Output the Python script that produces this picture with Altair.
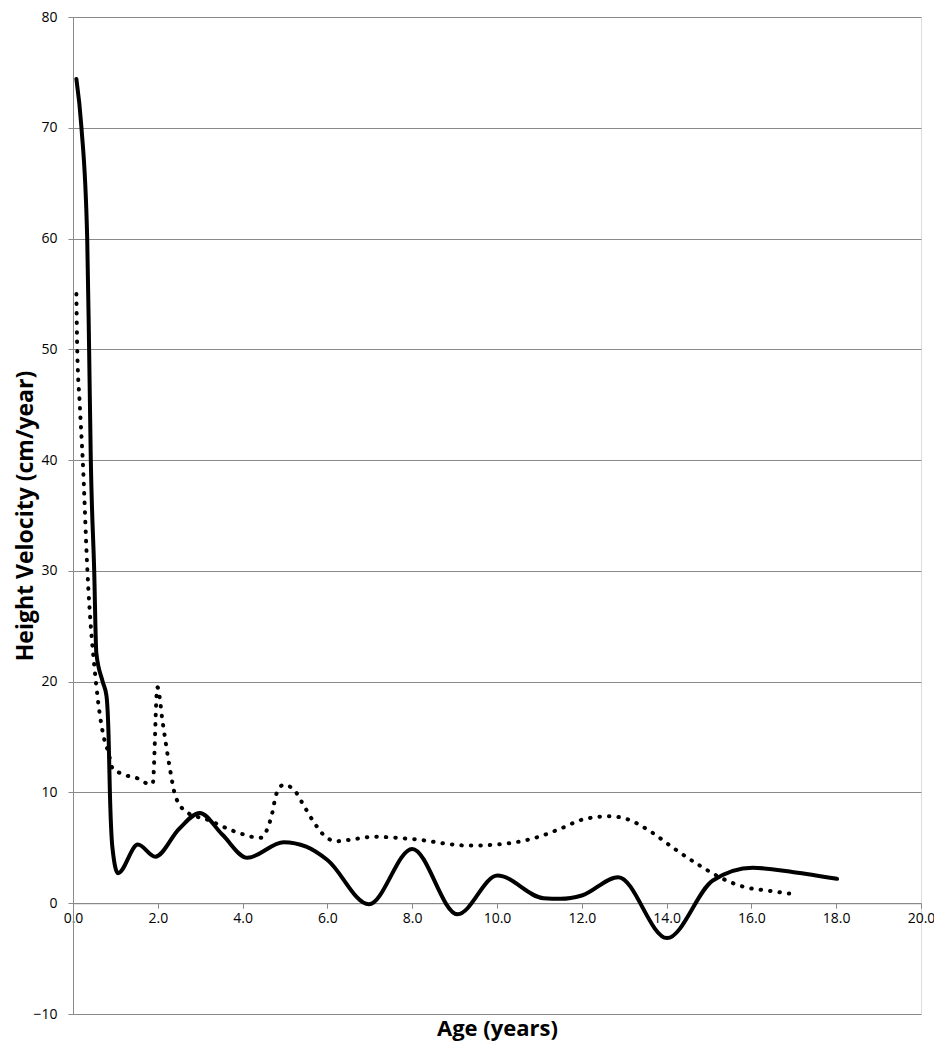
import altair as alt
import pandas as pd

# Solid series (age in years, height velocity cm/year)
solid_age = [0.08, 0.20, 0.335, 0.38, 0.42, 0.50, 0.55, 0.70, 0.79, 0.84, 0.87, 0.93, 1.06,
             1.53, 1.94, 2.5, 2.99, 3.52, 4.11, 4.97, 5.5, 6.0, 6.98, 8.0, 9.07, 10.01,
             11.1, 11.5, 12.0, 12.86, 14.01, 15.09, 16.03, 17.0, 18.02]
solid_val = [74.4, 70.0, 60.0, 50.0, 40.0, 30.0, 22.6, 20.0, 18.7, 15.0, 10.0, 5.0, 2.7,
             5.3, 4.2, 6.7, 8.15, 6.2, 4.1, 5.5, 5.1, 3.9, -0.1, 4.9, -1.0, 2.5,
             0.45, 0.4, 0.7, 2.35, -3.15, 2.05, 3.2, 2.8, 2.2]

# Dotted series
dot_age = [0.08, 0.10, 0.16, 0.23, 0.34, 0.54, 0.63, 0.75, 0.83, 0.93, 1.14, 1.57, 1.77, 1.88,
           1.99, 2.12, 2.27, 2.43, 2.73, 3.13, 3.8, 4.42, 4.56, 4.7, 4.79, 4.97, 5.23, 5.46,
           5.7, 5.99, 6.22, 6.65, 7.08, 7.98, 9.35, 10.01, 10.9, 11.54, 11.97, 12.4, 12.63,
           13.06, 13.65, 14.19, 14.78, 15.33, 15.8, 16.46, 16.89]
dot_val = [55.0, 50.0, 45.0, 40.0, 30.0, 20.0, 17.1, 14.6, 13.7, 12.2, 11.7, 11.2, 10.8, 10.8,
           19.5, 16.2, 12.5, 9.5, 8.1, 7.6, 6.5, 5.9, 6.5, 8.15, 9.8, 10.7, 10.15, 8.7,
           7.2, 5.9, 5.6, 5.8, 6.0, 5.8, 5.2, 5.3, 5.9, 6.8, 7.5, 7.8, 7.86,
           7.6, 6.4, 4.9, 3.4, 2.2, 1.5, 1.1, 0.87]

x_ticks = [0, 2, 4, 6, 8, 10, 12, 14, 16, 18, 20]
y_ticks = [-10, 0, 10, 20, 30, 40, 50, 60, 70, 80]

solid_df = pd.DataFrame({"age": solid_age, "vel": solid_val})
dot_df = pd.DataFrame({"age": dot_age, "vel": dot_val})

W, H = 848, 997
Y_MIN, Y_MAX = -10, 80
zero_offset = -(H * (0 - Y_MIN) / (Y_MAX - Y_MIN))

GRID = "#8a8a8a"
FONT = "Open Sans"

x_enc = alt.X(
    "age:Q",
    scale=alt.Scale(domain=[0, 20], nice=False, zero=False),
    axis=alt.Axis(
        values=x_ticks, format=".1f", title="Age (years)", offset=zero_offset,
        grid=False, domainColor=GRID, tickColor=GRID, tickSize=5, labelPadding=3,
        labelFlush=False, labelOverlap=False,
        labelFont=FONT, labelFontSize=14, labelColor="#000000",
        titleFont=FONT, titleFontSize=22, titleFontWeight="bold", titleColor="#000000",
        titleY=125, titleBaseline="middle",
    ),
)
y_enc = alt.Y(
    "vel:Q",
    scale=alt.Scale(domain=[Y_MIN, Y_MAX], nice=False, zero=False),
    axis=alt.Axis(
        values=y_ticks, format="d", title="Height Velocity (cm/year)",
        grid=True, gridColor=GRID, gridWidth=1, domainColor=GRID, tickColor=GRID,
        tickSize=5, labelPadding=11, labelFlush=False, labelOverlap=False,
        labelFont=FONT, labelFontSize=14, labelColor="#000000",
        titleFont=FONT, titleFontSize=23, titleFontWeight="bold", titleColor="#000000",
        titleX=-48, titleY=H / 2, titleBaseline="middle", titleAlign="center",
    ),
)

solid = alt.Chart(solid_df).mark_line(
    color="black", strokeWidth=4, interpolate="monotone", strokeCap="round"
).encode(x=x_enc, y=y_enc)

dotted = alt.Chart(dot_df).mark_line(
    color="black", strokeWidth=4, interpolate="monotone",
    strokeDash=[0.5, 9], strokeCap="round"
).encode(x="age:Q", y="vel:Q")

chart = alt.layer(dotted, solid).properties(
    width=W, height=H,
    autosize=alt.AutoSizeParams(type="none"),
    padding={"left": 65, "top": 9, "right": 13, "bottom": 27},
).configure_view(stroke=None).configure(background="white")

chart.save("out.html", embed_options={"renderer": "svg", "actions": False})
